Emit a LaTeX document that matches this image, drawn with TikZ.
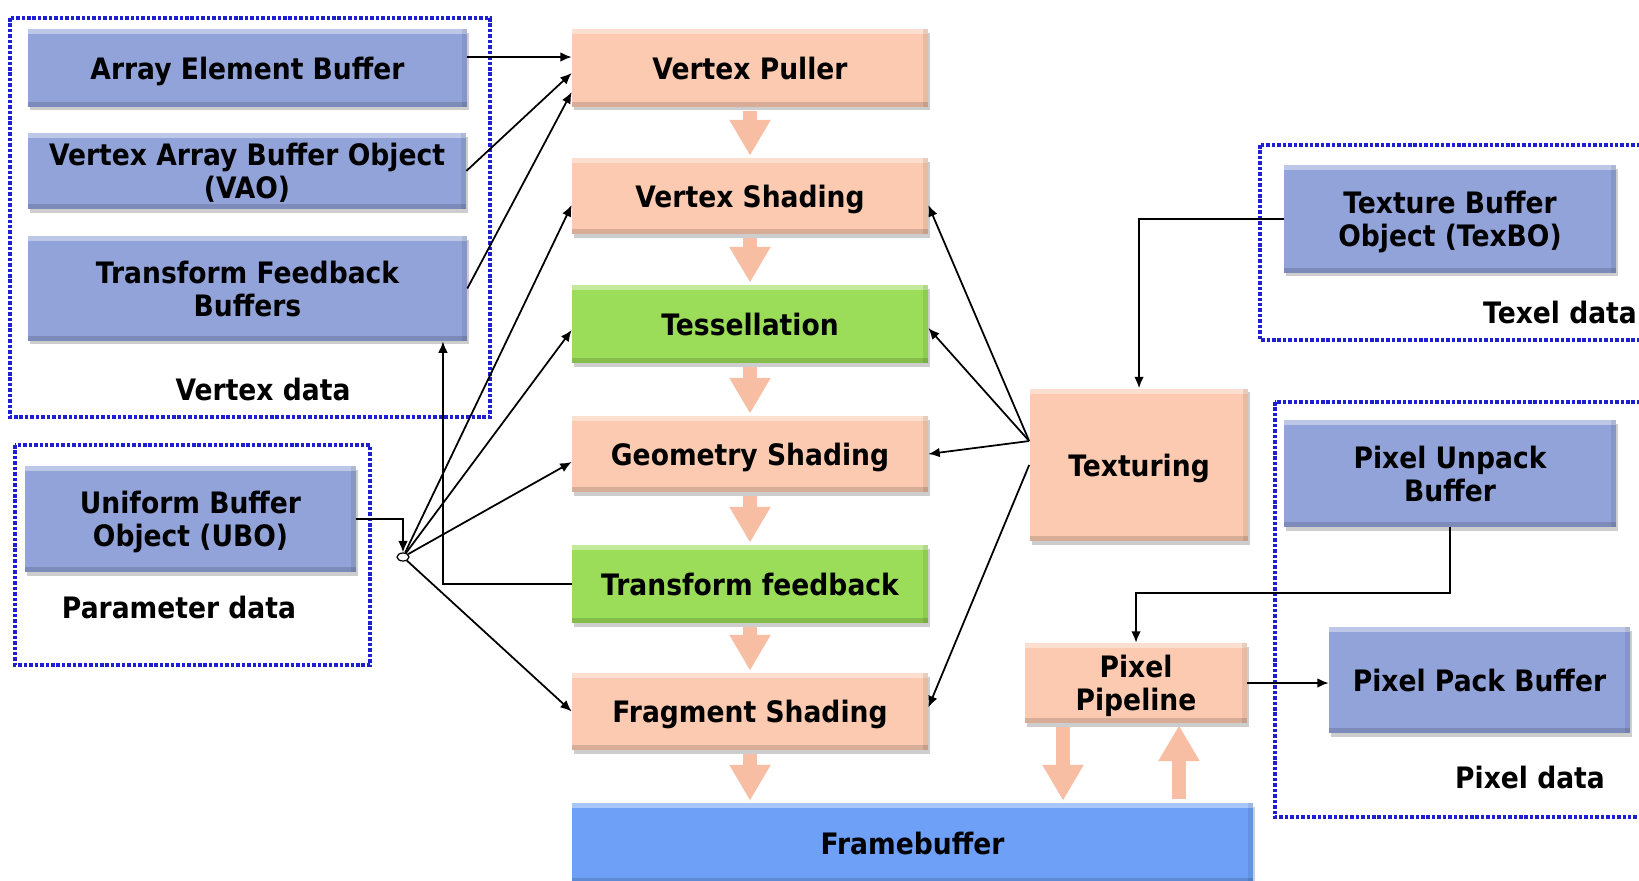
\documentclass[tikz,border=0pt]{standalone}
\usepackage{fontspec}
\setmainfont{DejaVu Sans}[FakeStretch=0.9]
\usetikzlibrary{arrows.meta,shadows,calc,shapes.geometric}
\definecolor{bufblue}{RGB}{145,163,216}
\definecolor{peach}{RGB}{251,202,176}
\definecolor{lgreen}{RGB}{155,221,88}
\definecolor{fbblue}{RGB}{110,160,247}
\definecolor{arrowpeach}{RGB}{247,190,163}
\definecolor{dotblue}{RGB}{30,30,210}
\begin{document}
\begin{tikzpicture}[x=0.02cm,y=-0.02cm,
  every node/.style={font=\fontsize{16.8}{18.7}\selectfont\bfseries, align=center, inner sep=0pt, text depth=-1.5pt},
  bevel/.style={path picture={
    \fill[white,opacity=0.4] (path picture bounding box.north west) rectangle ([yshift=-0.1cm]path picture bounding box.north east);
    \fill[black,opacity=0.14] (path picture bounding box.south west) rectangle ([yshift=0.1cm]path picture bounding box.south east);
    \fill[black,opacity=0.08] (path picture bounding box.north east) rectangle ([xshift=-0.1cm]path picture bounding box.south east);
  }},
  shad/.style={drop shadow={shadow xshift=0.04cm, shadow yshift=-0.07cm, opacity=0.28, fill=black!70}},
  buf/.style={fill=bufblue, shad, bevel},
  stage/.style={fill=peach, shad, bevel},
  gstage/.style={fill=lgreen, shad, bevel},
  fbbox/.style={fill=fbblue, shad, bevel},
  conn/.style={draw=black, line width=1pt, -{Latex[length=6.5pt,width=5.5pt]}},
  blockarrow/.style={draw=arrowpeach, line width=8.5pt, -{Triangle[length=20.4pt,width=22.1pt]}, shorten <=0.08cm, shorten >=0.04cm},
  group/.style={draw=dotblue, line width=2pt, dash pattern=on 2pt off 1.1pt},
  junc/.style={ellipse, draw=black, fill=white, line width=0.7pt, minimum width=0.24cm, minimum height=0.16cm}
]
\useasboundingbox (0,0) rectangle (1639,880);
\clip (0,0) rectangle (1639,880);
\fill[white] (0,0) rectangle (1639,880);

% groups
\draw[group] (10,18) rectangle (490,417);
\draw[group] (15,445) rectangle (370,665);
\draw[group] (1260,145) rectangle (1650,340);
\draw[group] (1275,402) rectangle (1650,817);

% buffers
\node[buf, minimum width=8.78cm, minimum height=1.56cm] (aeb) at (247.5,68) {Array Element Buffer};
\node[buf, minimum width=8.76cm, minimum height=1.52cm] (vao) at (247,171) {Vertex Array Buffer Object\\(VAO)};
\node[buf, minimum width=8.78cm, minimum height=2.10cm] (tfb) at (247.5,288.5) {Transform Feedback\\Buffers};
\node[buf, minimum width=6.62cm, minimum height=2.12cm] (ubo) at (190.5,519) {Uniform Buffer\\Object (UBO)};
\node[buf, minimum width=6.64cm, minimum height=2.16cm] (texbo) at (1450,219) {Texture Buffer\\Object (TexBO)};
\node[buf, minimum width=6.64cm, minimum height=2.14cm] (pub) at (1450,473.5) {Pixel Unpack\\Buffer};
\node[buf, minimum width=6.02cm, minimum height=2.12cm] (ppb) at (1479.5,680) {Pixel Pack Buffer};

% pipeline stages
\node[stage, minimum width=7.12cm, minimum height=1.56cm] (vp) at (750,68) {Vertex Puller};
\node[stage, minimum width=7.12cm, minimum height=1.52cm] (vs) at (750,196) {Vertex Shading};
\node[gstage, minimum width=7.12cm, minimum height=1.56cm] (tess) at (750,324) {Tessellation};
\node[stage, minimum width=7.12cm, minimum height=1.52cm] (gs) at (750,454) {Geometry Shading};
\node[gstage, minimum width=7.12cm, minimum height=1.56cm] (tf) at (750,584) {Transform feedback};
\node[stage, minimum width=7.12cm, minimum height=1.54cm] (fs) at (750,711.5) {Fragment Shading};
\node[fbbox, minimum width=13.62cm, minimum height=1.60cm] (fb) at (912.5,843) {Framebuffer};
\node[stage, minimum width=4.38cm, minimum height=3.06cm] (tex) at (1139,465) {Texturing};
\node[stage, minimum width=4.44cm, minimum height=1.60cm] (pp) at (1136,683) {Pixel\\Pipeline};

% labels
\node (vdl) at (263,389) {Vertex data};
\node (pdl) at (179,607) {Parameter data};
\node (tdl) at (1560,312) {Texel data};
\node (pxl) at (1530,777) {Pixel data};

% junction
\node[junc] (junc) at (403,557) {};

% block arrows
\draw[blockarrow] (vp.south) -- (vs.north);
\draw[blockarrow] (vs.south) -- (tess.north);
\draw[blockarrow] (tess.south) -- (gs.north);
\draw[blockarrow] (gs.south) -- (tf.north);
\draw[blockarrow] (tf.south) -- (fs.north);
\draw[blockarrow] (fs.south) -- (fs.south |- fb.north);
\draw[blockarrow] ([xshift=-1.46cm]pp.south) -- ([xshift=-1.46cm]pp.south |- fb.north);
\draw[blockarrow] ([xshift=0.86cm]pp.south |- fb.north) -- ([xshift=0.86cm]pp.south);

% connectors: vertex data
\draw[conn] ([yshift=0.22cm]aeb.east) -- ([yshift=0.22cm]aeb.east -| vp.west);
\draw[conn] (vao.east) -- ([yshift=-0.1cm]vp.west);
\draw[conn] (tfb.east) -- ([yshift=-0.48cm]vp.west);
\draw[conn] (tf.west) -| ([xshift=3.91cm]tfb.south);

% uniform buffer junction
\draw[conn] (ubo.east) -| (junc.north);
\draw[conn] (junc) -- ([yshift=-0.18cm]vs.west);
\draw[conn] (junc) -- ([yshift=-0.12cm]tess.west);
\draw[conn] (junc) -- ([yshift=-0.16cm]gs.west);
\draw[conn] (junc) -- (fs.west);

% texturing
\coordinate (texp) at ([yshift=0.48cm]tex.west);
\draw[conn] (texp) -- ([yshift=-0.18cm]vs.east);
\draw[conn] (texp) -- ([yshift=-0.08cm]tess.east);
\draw[conn] (texp) -- (gs.east);
\draw[conn] (tex.west) -- ([yshift=0.08cm]fs.east);
\draw[conn] (texbo.west) -| (tex.north);

% pixel path
\draw[conn] (pub.south) -- ++(0,66) -| (pp.north);
\draw[conn] (pp.east) -- (pp.east -| ppb.west);
\end{tikzpicture}
\end{document}
